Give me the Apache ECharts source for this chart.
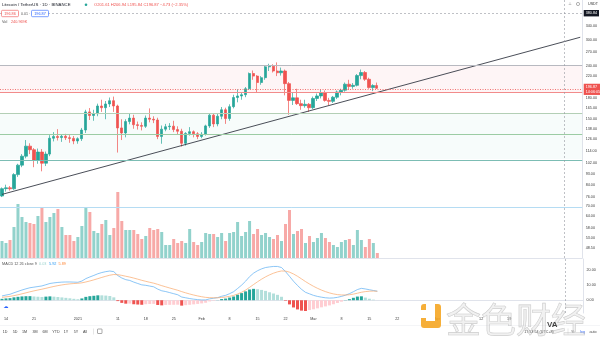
<!DOCTYPE html>
<html><head><meta charset="utf-8">
<script src="https://cdn.jsdelivr.net/npm/echarts@6/dist/echarts.min.js"></script>
<style>html,body{margin:0;padding:0;background:#fff}#c{width:600px;height:337px}</style>
</head><body><div id="c"></div>
<script>
// ---------- data ----------
const startDate = '2020-12-13';
const dayCount = 146; // visible days incl. empty right margin
const opens = [76.5,81.6,82.2,81.5,92.3,100.3,108.5,118.5,114.8,104.5,
112.5,102.0,110.5,127.0,129.0,127.8,129.2,127.6,126.8,124.0,
126.5,136.5,160.0,155.0,157.5,168.5,166.0,171.5,176.5,168.5,
139.0,133.0,147.0,151.5,143.0,142.0,141.0,151.5,150.0,149.0,
129.0,137.5,140.5,141.2,137.0,135.0,121.5,132.5,134.5,132.0,
129.0,131.5,141.5,155.5,144.0,154.0,163.0,151.0,167.5,181.5,
184.0,186.0,196.0,224.0,219.0,207.0,216.0,237.5,239.0,229.0,
225.5,229.0,205.0,177.0,181.0,172.0,169.0,171.0,166.0,180.0,
184.0,189.0,177.0,175.5,182.0,190.5,193.5,204.0,200.0,202.0,
220.0,226.0,213.0,198.0,201.61];
const highs = [82.5,84.5,83.5,93.5,101.5,110.5,125.0,121.5,116.5,116.0,
115.5,113.0,130.5,134.0,137.5,131.5,132.0,130.5,129.5,128.0,
139.0,163.0,165.5,163.0,172.0,178.0,176.0,181.5,183.0,170.5,
150.0,150.0,158.0,156.0,147.0,146.0,155.0,165.0,154.0,152.0,
142.0,144.0,145.0,148.0,141.0,138.0,134.0,140.0,136.0,134.0,
134.0,143.0,158.0,158.0,157.0,167.0,166.0,171.0,186.0,195.0,
190.0,199.0,226.0,230.0,221.0,219.0,241.0,244.0,243.0,247.0,
236.0,232.0,208.0,190.0,196.0,178.0,178.0,173.0,183.0,188.0,
194.0,193.0,181.0,184.0,193.0,196.0,207.0,212.0,206.0,223.0,
232.0,229.0,216.0,204.0,206.94];
const lows = [75.8,79.5,80.2,80.8,90.5,98.5,106.5,110.5,98.5,101.5,
95.0,99.5,108.5,123.5,124.5,123.0,125.0,122.0,120.5,121.0,
124.0,133.0,149.0,148.0,154.0,160.0,150.0,167.0,160.0,112.0,
125.0,128.0,143.5,138.0,137.0,136.0,139.0,146.0,145.0,126.0,
121.0,135.0,136.5,134.0,131.0,118.0,119.0,130.0,128.0,126.0,
127.0,130.0,139.0,140.0,141.0,150.0,144.0,148.0,165.0,174.0,
178.0,182.0,194.0,212.0,190.0,203.0,212.0,229.0,226.0,219.0,
220.0,185.0,156.0,170.0,170.0,163.0,166.0,160.0,164.0,176.0,
180.0,175.0,169.5,173.0,179.0,185.0,191.0,194.0,196.0,200.0,
213.0,210.0,196.0,192.0,195.84];
const closes = [81.6,82.2,81.5,92.3,100.3,108.5,118.5,114.8,104.5,112.5,
102.0,110.5,127.0,129.0,127.8,129.2,127.6,126.8,124.0,126.5,
136.5,160.0,155.0,157.5,168.5,166.0,171.5,176.5,168.5,139.0,
133.0,147.0,151.5,143.0,142.0,141.0,151.5,150.0,149.0,129.0,
137.5,140.5,141.2,137.0,135.0,121.5,132.5,134.5,132.0,129.0,
131.5,141.5,155.5,144.0,154.0,163.0,151.0,167.5,181.5,184.0,
186.0,196.0,224.0,219.0,207.0,216.0,237.5,239.0,229.0,225.5,
229.0,205.0,177.0,181.0,172.0,169.0,171.0,166.0,180.0,184.0,
189.0,177.0,175.5,182.0,190.5,193.5,204.0,200.0,202.0,220.0,
226.0,213.0,198.0,201.6,196.87];
const volumesK = [819,723,868,1494,2603,1976,1735,1687,1639,2024,
2458,1735,1976,2169,2362,1494,1109,1109,819,1012,
1542,2410,2217,1301,1205,1639,1832,1109,1446,3181,
1783,1350,1350,1350,1157,916,1060,1446,1350,1398,
1253,627,627,916,723,819,723,1398,771,627,
771,1205,1157,1157,1012,1205,819,1205,1253,1735,
1060,1253,1783,1157,1398,1109,1205,1012,916,1109,
819,1639,2314,1157,1301,1398,723,1060,771,964,
1205,964,771,627,530,771,868,916,627,1350,
868,530,916,723,240.969];
const macdLine = [2.8,3.4,3.9,4.9,5.8,6.7,7.5,8.2,8.6,9.0,
9.4,10.2,11.0,11.4,11.7,11.9,12.0,12.0,11.9,11.8,
12.6,14.2,15.3,16.3,17.4,18.2,18.8,19.2,18.8,16.2,
14.6,13.5,13.0,11.9,11.0,10.1,9.8,9.3,8.8,7.3,
6.2,5.7,5.0,4.3,3.6,2.1,1.6,1.1,0.7,0.4,
0.2,0.2,0.9,1.3,1.7,2.6,3.2,4.3,5.6,7.7,
9.9,12.5,15.5,17.8,19.4,20.6,21.5,21.9,22.2,22.2,
21.5,18.8,15.7,12.5,9.7,7.2,5.2,4.2,3.2,2.5,
2.0,1.6,1.4,1.5,1.9,2.5,3.3,4.3,5.6,7.0,
7.8,7.4,6.9,6.4,5.92];
const signalLine = [1.9,2.2,2.54,3.01,3.57,4.20,4.86,5.53,6.14,6.71,
7.25,7.84,8.47,9.06,9.59,10.05,10.44,10.75,10.98,11.14,
11.43,11.99,12.65,13.38,14.18,14.99,15.75,16.44,16.91,16.77,
16.34,15.77,15.22,14.55,13.84,13.09,12.43,11.80,11.20,10.42,
9.58,8.80,8.04,7.29,6.55,5.66,4.85,4.10,3.42,2.82,
2.30,1.88,1.68,1.60,1.62,1.82,2.10,2.54,3.15,4.06,
5.23,6.68,8.45,10.32,12.13,13.83,15.36,16.67,17.78,18.66,
19.23,19.14,18.45,17.26,15.75,14.04,12.27,10.66,9.17,7.84,
6.67,5.66,4.81,4.15,3.70,3.46,3.43,3.60,4.00,4.60,
5.24,5.67,5.92,6.02,5.89];
const macdHist = [0.90,1.20,1.36,1.89,2.23,2.50,2.64,2.67,2.46,2.29,
2.15,2.36,2.53,2.34,2.11,1.85,1.56,1.25,0.92,0.66,
1.17,2.21,2.65,2.92,3.22,3.21,3.05,2.76,1.89,-0.57,
-1.74,-2.27,-2.22,-2.65,-2.84,-2.99,-2.63,-2.50,-2.40,-3.12,
-3.38,-3.10,-3.04,-2.99,-2.95,-3.56,-3.25,-3.00,-2.72,-2.42,
-2.10,-1.68,-0.78,-0.30,0.08,0.78,1.10,1.76,2.45,3.64,
4.67,5.82,7.05,7.48,7.27,6.77,6.14,5.23,4.42,3.54,
2.27,-0.34,-2.75,-4.76,-6.05,-6.84,-7.07,-6.46,-5.97,-5.34,
-4.67,-4.06,-3.41,-2.65,-1.80,-0.96,0.13,0.70,1.60,2.40,
2.56,1.73,0.98,0.38,0.03];
const priceTicks = [340,300,270,240,220,180,165,150,138,126,114,102,93,84,76,70,64,58,53,48.5];
const macdTicks = [0,10,20];
const xTickDates = ['2020-12-14','2020-12-21','2021-01-01','2021-01-11','2021-01-18','2021-01-25','2021-02-01','2021-02-08','2021-02-15','2021-02-22','2021-03-01','2021-03-08','2021-03-15','2021-03-22','2021-04-01','2021-04-12','2021-04-19'];
const xTickLabels = ['14','21','2021','11','18','25','Feb','8','15','22','Mar','8','15','22','Apr','12','19'];
const levelPrices = [239.7,189.2,157.4,131.4,105.9,69.5];
const bandUpper = [239.7,157.4];
const bandLower = [189.2,105.9];
const trendDates = ['2020-12-13','2021-05-07'];
const trendPrices = [77.6,307.9];
const lastPrice = 196.87;
const countdown = '14:06:05';
const crossDate = '2021-05-03';
const crossPrice = 380.84;
const priceRange = [44.42,426.9];
const macdRange = [-8.4,27.1];
const volumeMaxK = 3181;

// ---------- styles ----------
const UP = '#26a69a', DOWN = '#ef5350';
const levelColors = ['#b7b9c0','#f28b8b','#b3cfb5','#9ccca4','#7cbdb4','#b5dcf3'];
const bandColors = ['rgba(242,54,69,0.05)','rgba(0,150,136,0.03)'];
const FONT = 'Liberation Sans';

// ---------- build ----------
const L = v => Math.log10(v);
const categories = [];
{
  const d0 = new Date(startDate + 'T00:00:00Z');
  for (let i = 0; i < dayCount; i++) {
    const d = new Date(d0.getTime() + i * 86400000);
    categories.push(d.toISOString().slice(0, 10));
  }
}
const tickMap = {};
xTickDates.forEach((d, i) => { tickMap[d] = xTickLabels[i]; });
const candleData = opens.map((o, i) => [L(o), L(closes[i]), L(lows[i]), L(highs[i])]);
const volData = volumesK.map((v, i) => ({
  value: v,
  itemStyle: { color: closes[i] >= opens[i] ? 'rgba(38,166,154,0.5)' : 'rgba(239,83,80,0.5)' }
}));
const histData = macdHist.map((v, i) => {
  const prev = i > 0 ? macdHist[i - 1] : v;
  let c;
  if (v >= 0) c = v >= prev ? '#26a69a' : '#b2dfdb';
  else c = v <= prev ? '#ef5350' : '#ffcdd2';
  return { value: v, itemStyle: { color: c } };
});
const levelLines = levelPrices.map((p, i) => ({
  yAxis: L(p), lineStyle: { color: levelColors[i], width: 1, type: 'solid' }, label: { show: false }
}));
levelLines.push({
  yAxis: L(lastPrice), lineStyle: { color: DOWN, width: 0.8, type: [1, 1.5] },
  label: { show: true, position: 'end', distance: 1.5, formatter: lastPrice.toFixed(2) + '\n' + countdown,
    backgroundColor: DOWN, color: '#fff', fontSize: 3.7, lineHeight: 4.6, padding: [1, 2], fontFamily: FONT }
});
levelLines.push({
  yAxis: L(crossPrice), lineStyle: { color: '#9598a1', width: 0.6, type: [2, 2] },
  label: { show: true, position: 'end', distance: 1.5, formatter: crossPrice.toFixed(2),
    backgroundColor: '#131722', color: '#fff', fontSize: 3.7, padding: [1.2, 2], fontFamily: FONT }
});
levelLines.push({ xAxis: crossDate, lineStyle: { color: '#9598a1', width: 0.6, type: [2, 2] }, label: { show: false } });
const bands = bandUpper.map((u, i) => [
  { yAxis: L(u), itemStyle: { color: bandColors[i] } }, { yAxis: L(bandLower[i]) }
]);

const axLabel = { fontSize: 3.7, color: '#3b3b3b', fontFamily: FONT };
const sepLine = { show: true, lineStyle: { color: '#e0e3eb', width: 1 } };

const option = {
  animation: false,
  backgroundColor: '#ffffff',
  grid: [
    { left: 0, right: 17, top: 0, height: 258 },
    { left: 0, right: 17, top: 192, height: 66 },
    { left: 0, right: 17, top: 259, height: 54 }
  ],
  xAxis: [
    { gridIndex: 0, type: 'category', data: categories, boundaryGap: true,
      axisLine: sepLine, axisTick: { show: false }, axisLabel: { show: false }, splitLine: { show: false } },
    { gridIndex: 1, type: 'category', data: categories, boundaryGap: true, show: false },
    { gridIndex: 2, type: 'category', data: categories, boundaryGap: true,
      axisLine: sepLine, axisTick: { show: false }, splitLine: { show: false },
      axisLabel: Object.assign({}, axLabel, { margin: 3.5, interval: (idx, val) => tickMap[val] !== undefined,
        formatter: (val) => tickMap[val] || '' }) }
  ],
  yAxis: [
    { gridIndex: 0, type: 'value', position: 'right', min: L(priceRange[0]), max: L(priceRange[1]),
      splitLine: { show: false }, axisLine: sepLine, axisTick: { show: false },
      axisLabel: Object.assign({}, axLabel, { margin: 3.5, customValues: priceTicks.map(L),
        formatter: v => Math.pow(10, v).toFixed(2) }) },
    { gridIndex: 1, type: 'value', min: 0, max: volumeMaxK, show: false },
    { gridIndex: 2, type: 'value', position: 'right', min: macdRange[0], max: macdRange[1],
      splitLine: { show: false }, axisLine: sepLine, axisTick: { show: false },
      axisLabel: Object.assign({}, axLabel, { margin: 3.5, customValues: macdTicks,
        formatter: v => v.toFixed(2) }) }
  ],
  series: [
    { type: 'bar', name: 'Volume', xAxisIndex: 1, yAxisIndex: 1, data: volData, barWidth: 3, silent: true, z: 1 },
    { type: 'candlestick', name: 'LTCUSDT', xAxisIndex: 0, yAxisIndex: 0, data: candleData, barWidth: 2.8, z: 3,
      itemStyle: { color: UP, color0: DOWN, borderColor: UP, borderColor0: DOWN, borderWidth: 0.7 },
      markLine: { silent: true, symbol: ['none', 'none'], data: levelLines, label: { show: false } },
      markArea: { silent: true, data: bands }
    },
    { type: 'line', name: 'Trend', xAxisIndex: 0, yAxisIndex: 0, showSymbol: false, symbol: 'none', silent: true, z: 4,
      data: trendDates.map((d, i) => [d, L(trendPrices[i])]), lineStyle: { color: '#363a45', width: 0.9 } },
    { type: 'bar', name: 'Histogram', xAxisIndex: 2, yAxisIndex: 2, data: histData, barWidth: 3, silent: true,
      markLine: { silent: true, symbol: ['none', 'none'],
        data: [{ xAxis: crossDate, lineStyle: { color: '#9598a1', width: 0.6, type: [2, 2] }, label: { show: false } }] } },
    { type: 'line', name: 'MACD', xAxisIndex: 2, yAxisIndex: 2, data: macdLine, showSymbol: false, symbol: 'none',
      lineStyle: { color: '#5aaef2', width: 0.7 }, silent: true, z: 5 },
    { type: 'line', name: 'Signal', xAxisIndex: 2, yAxisIndex: 2, data: signalLine, showSymbol: false, symbol: 'none',
      lineStyle: { color: '#f9a76a', width: 0.7 }, silent: true, z: 5 }
  ],
  graphic: [
    { type: 'text', x: 2, y: 4.8, style: { text: 'Litecoin / TetherUS · 1D · BINANCE', fill: '#131722', fontSize: 4.3, fontFamily: FONT, verticalAlign: 'middle' } },
    { type: 'circle', shape: { cx: 86, cy: 4.8, r: 1.3 }, style: { fill: UP } },
    { type: 'text', x: 94, y: 4.8, style: { text: 'O' + opens[94].toFixed(2) + ' H' + highs[94].toFixed(2) + ' L' + lows[94].toFixed(2) + ' C' + closes[94].toFixed(2) + ' −4.73 (−2.35%)', fill: DOWN, fontSize: 4.1, fontFamily: FONT, verticalAlign: 'middle' } },
    { type: 'rect', shape: { x: 1.5, y: 10.3, width: 17, height: 6.4, r: 1 }, style: { fill: '#fff', stroke: DOWN, lineWidth: 0.6 }, z: 10 },
    { type: 'text', x: 10, y: 13.5, z: 11, style: { text: '196.86', fill: DOWN, fontSize: 3.8, fontFamily: FONT, align: 'center', verticalAlign: 'middle' } },
    { type: 'rect', shape: { x: 19.5, y: 10.3, width: 10, height: 6.4 }, style: { fill: '#fff' }, z: 10 },
    { type: 'text', x: 24.5, y: 13.5, z: 11, style: { text: '0.01', fill: '#555', fontSize: 3.6, fontFamily: FONT, align: 'center', verticalAlign: 'middle' } },
    { type: 'rect', shape: { x: 31.5, y: 10.3, width: 17, height: 6.4, r: 1 }, style: { fill: '#fff', stroke: '#2962ff', lineWidth: 0.6 }, z: 10 },
    { type: 'text', x: 40, y: 13.5, z: 11, style: { text: '196.87', fill: '#2962ff', fontSize: 3.8, fontFamily: FONT, align: 'center', verticalAlign: 'middle' } },
    { type: 'text', x: 2, y: 22, style: { text: 'Vol', fill: '#555', fontSize: 3.8, fontFamily: FONT, verticalAlign: 'middle' } },
    { type: 'text', x: 11, y: 22, style: { text: volumesK[94].toFixed(3) + 'K', fill: DOWN, fontSize: 3.8, fontFamily: FONT, verticalAlign: 'middle' } },
    { type: 'text', x: 598, y: 4, style: { text: 'USDT', fill: '#333', fontSize: 3.7, fontFamily: FONT, align: 'right', verticalAlign: 'middle' } },
    { type: 'circle', shape: { cx: 578, cy: 4, r: 1.6 }, style: { fill: 'none', stroke: '#666', lineWidth: 0.5 } },
    { type: 'text', x: 570, y: 4, style: { text: '⊥', fill: '#666', fontSize: 4, fontFamily: 'DejaVu Sans', align: 'center', verticalAlign: 'middle' } },
    { type: 'text', x: 2, y: 263.5, style: { text: 'MACD 12 26 close 9', fill: '#555', fontSize: 3.8, fontFamily: FONT, verticalAlign: 'middle' } },
    { type: 'text', x: 39, y: 263.5, style: { text: macdHist[94].toFixed(2), fill: '#9fd4cf', fontSize: 3.8, fontFamily: FONT, verticalAlign: 'middle' } },
    { type: 'text', x: 49, y: 263.5, style: { text: macdLine[94].toFixed(2), fill: '#2196f3', fontSize: 3.8, fontFamily: FONT, verticalAlign: 'middle' } },
    { type: 'text', x: 58.5, y: 263.5, style: { text: signalLine[94].toFixed(2), fill: '#ff8a3d', fontSize: 3.8, fontFamily: FONT, verticalAlign: 'middle' } },
    { type: 'text', x: 6, y: 306.5, style: { text: '☁', fill: '#2962ff', fontSize: 5, fontFamily: 'DejaVu Sans', align: 'center', verticalAlign: 'middle' } },
    { type: 'line', shape: { x1: 0, y1: 325.5, x2: 600, y2: 325.5 }, style: { stroke: '#eceef2', lineWidth: 0.6 } },
    { type: 'text', x: 5, y: 331.5, style: { text: '1D', fill: '#444', fontSize: 3.7, fontFamily: FONT, align: 'center', verticalAlign: 'middle' } },
    { type: 'text', x: 15, y: 331.5, style: { text: '5D', fill: '#444', fontSize: 3.7, fontFamily: FONT, align: 'center', verticalAlign: 'middle' } },
    { type: 'text', x: 24.5, y: 331.5, style: { text: '1M', fill: '#444', fontSize: 3.7, fontFamily: FONT, align: 'center', verticalAlign: 'middle' } },
    { type: 'text', x: 35, y: 331.5, style: { text: '3M', fill: '#444', fontSize: 3.7, fontFamily: FONT, align: 'center', verticalAlign: 'middle' } },
    { type: 'text', x: 45, y: 331.5, style: { text: '6M', fill: '#444', fontSize: 3.7, fontFamily: FONT, align: 'center', verticalAlign: 'middle' } },
    { type: 'text', x: 56, y: 331.5, style: { text: 'YTD', fill: '#444', fontSize: 3.7, fontFamily: FONT, align: 'center', verticalAlign: 'middle' } },
    { type: 'text', x: 66, y: 331.5, style: { text: '1Y', fill: '#444', fontSize: 3.7, fontFamily: FONT, align: 'center', verticalAlign: 'middle' } },
    { type: 'text', x: 76, y: 331.5, style: { text: '5Y', fill: '#444', fontSize: 3.7, fontFamily: FONT, align: 'center', verticalAlign: 'middle' } },
    { type: 'text', x: 85, y: 331.5, style: { text: 'All', fill: '#444', fontSize: 3.7, fontFamily: FONT, align: 'center', verticalAlign: 'middle' } },
    { type: 'line', shape: { x1: 93.5, y1: 328.5, x2: 93.5, y2: 334.5 }, style: { stroke: '#ccc', lineWidth: 0.5 } },
    { type: 'rect', shape: { x: 97.5, y: 329, width: 4.5, height: 4.5, r: 0.5 }, style: { fill: 'none', stroke: '#555', lineWidth: 0.5 } },
    { type: 'text', x: 539, y: 331.5, style: { text: '17:53:54 (UTC+8)', fill: '#444', fontSize: 3.7, fontFamily: FONT, align: 'center', verticalAlign: 'middle' } },
    { type: 'line', shape: { x1: 568, y1: 328.5, x2: 568, y2: 334.5 }, style: { stroke: '#ccc', lineWidth: 0.5 } },
    { type: 'text', x: 573, y: 331.5, style: { text: '%', fill: '#444', fontSize: 3.7, fontFamily: FONT, align: 'center', verticalAlign: 'middle' } },
    { type: 'text', x: 582.5, y: 331.5, style: { text: 'log', fill: '#2962ff', fontSize: 3.7, fontFamily: FONT, align: 'center', verticalAlign: 'middle' } },
    { type: 'text', x: 593, y: 331.5, style: { text: 'auto', fill: '#444', fontSize: 3.7, fontFamily: FONT, align: 'center', verticalAlign: 'middle' } },
    // watermark
    { type: 'rect', shape: { x: 421, y: 304, width: 20, height: 24, r: 3 }, style: { fill: '#f5a623', opacity: 0.9 }, z: 20 },
    { type: 'rect', shape: { x: 426, y: 304, width: 9, height: 17 }, style: { fill: '#ffffff' }, z: 21 },
    { type: 'rect', shape: { x: 421, y: 310, width: 5, height: 8 }, style: { fill: '#ffffff' }, z: 21 },
    { type: 'text', x: 446, y: 320, z: 20, style: { text: '金色财经', fill: 'rgba(215,215,215,0.35)', stroke: 'rgba(160,160,160,0.55)', lineWidth: 0.6, fontSize: 35, fontFamily: 'Noto Sans CJK SC', verticalAlign: 'middle' } },
    { type: 'text', x: 547, y: 325, z: 21, style: { text: 'VA', fill: 'rgba(20,20,20,0.8)', fontSize: 8, fontWeight: 'bold', fontFamily: FONT, verticalAlign: 'middle' } }
  ]
};
const chart = echarts.init(document.getElementById('c'), null, { renderer: 'canvas', width: 600, height: 337 });
chart.setOption(option);
</script>
</body></html>
